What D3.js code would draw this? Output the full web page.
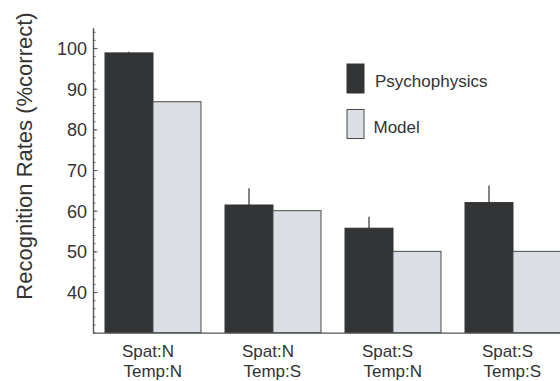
<!DOCTYPE html>
<html>
<head>
<meta charset="utf-8">
<script src="https://cdn.jsdelivr.net/npm/d3@7"></script>
<style>
  html, body { margin: 0; padding: 0; background: #fff; }
  svg { display: block; font-family: "Liberation Sans", Arial, Helvetica, sans-serif; }
</style>
</head>
<body>
<svg id="chart" width="560" height="381"></svg>
<script>
// Recognition rates per spatial/temporal condition
const conditions = [["Spat:N", "Temp:N"], ["Spat:N", "Temp:S"], ["Spat:S", "Temp:N"], ["Spat:S", "Temp:S"]];
const seriesNames = ["Psychophysics", "Model"];
const psychophysics = [98.8, 61.4, 55.7, 62.0];
const psychophysicsErr = [0.3, 4.1, 2.8, 4.2];
const model = [86.8, 60.0, 50.0, 50.0];
const majorTicks = [40, 50, 60, 70, 80, 90, 100];
const minorTicks = d3.range(30, 105, 2);

const colors = { Psychophysics: "#333436", Model: "#dcdfe3" };
const ink = "#333";

const svg = d3.select("#chart");
const axisX = 93, plotTop = 27.7, plotBottom = 332.7;

const keys = conditions.map(c => c.join(" "));
const x0 = d3.scaleBand().domain(keys).range([axisX, 573]).paddingInner(0.2).paddingOuter(0.1);
const x1 = d3.scaleBand().domain(seriesNames).range([0, x0.bandwidth()]);
const y = d3.scaleLinear().domain([30, 105]).range([plotBottom, plotTop]);

const rows = keys.map((k, i) => ({
  key: k,
  label: conditions[i],
  values: [
    { name: "Psychophysics", v: psychophysics[i], err: psychophysicsErr[i] },
    { name: "Model", v: model[i], err: 0 }
  ]
}));

// Bars
const groups = svg.append("g").selectAll("g").data(rows).join("g")
  .attr("transform", d => `translate(${x0(d.key)},0)`);

groups.selectAll("rect").data(d => d.values).join("rect")
  .attr("x", d => x1(d.name))
  .attr("y", d => y(d.v))
  .attr("width", x1.bandwidth())
  .attr("height", d => y(30) - y(d.v))
  .attr("fill", d => colors[d.name])
  .attr("stroke", d => d.name === "Model" ? "#4a4a4a" : "#333436")
  .attr("stroke-width", 1);

// Upward error bars on psychophysics
groups.selectAll("line.err").data(d => d.values.filter(v => v.err > 0)).join("line")
  .attr("class", "err")
  .attr("x1", d => x1(d.name) + x1.bandwidth() / 2)
  .attr("x2", d => x1(d.name) + x1.bandwidth() / 2)
  .attr("y1", d => y(d.v))
  .attr("y2", d => y(d.v + d.err))
  .attr("stroke", ink)
  .attr("stroke-width", 1.2);

// Y axis: minor ticks, then labelled major ticks, pointing into the plot
const yMinor = svg.append("g").attr("transform", `translate(${axisX},0)`)
  .call(d3.axisLeft(y).tickValues(minorTicks).tickSizeInner(-2.5).tickSizeOuter(0).tickFormat(""));
const yMajor = svg.append("g").attr("transform", `translate(${axisX},0)`)
  .call(d3.axisLeft(y).tickValues(majorTicks).tickSizeInner(-4.5).tickSizeOuter(0).tickPadding(6));
[yMinor, yMajor].forEach(g => {
  g.selectAll("line").attr("stroke", "#555");
  g.select(".domain").attr("stroke", "#555").attr("stroke-width", 1.2);
});
yMajor.selectAll("text")
  .attr("font-size", 18)
  .attr("font-family", "Liberation Sans, Arial, sans-serif")
  .attr("fill", ink)
  .attr("dy", "0.35em");

// X axis with two-line condition labels
const xAxis = svg.append("g").attr("transform", `translate(0,${plotBottom})`)
  .call(d3.axisBottom(x0).tickSize(0).tickSizeOuter(0));
xAxis.select(".domain").attr("stroke", "#555").attr("stroke-width", 1.2);
xAxis.selectAll(".tick text").each(function(k) {
  const lines = rows.find(r => r.key === k).label;
  const t = d3.select(this).text(null)
    .attr("text-anchor", "start")
    .attr("font-size", 17)
    .attr("font-family", "Liberation Sans, Arial, sans-serif")
    .attr("fill", ink)
    .attr("y", 0).attr("dy", null);
  lines.forEach((s, i) => t.append("tspan").attr("x", -31 + i * 1.5).attr("y", 24 + i * 20).text(s));
});

// Y axis title
svg.append("text")
  .attr("transform", "translate(32,156) rotate(-90)")
  .attr("text-anchor", "middle")
  .attr("font-size", 22)
  .attr("fill", ink)
  .text("Recognition Rates (%correct)");

// Legend
const legend = svg.append("g");
const legendY = [64, 109.5];
seriesNames.forEach((name, i) => {
  legend.append("rect")
    .attr("x", 347).attr("y", legendY[i])
    .attr("width", 17).attr("height", 29)
    .attr("fill", colors[name])
    .attr("stroke", name === "Model" ? "#4a4a4a" : "#333436");
  legend.append("text")
    .attr("x", i === 0 ? 375 : 373.5)
    .attr("y", legendY[i] + 23.3)
    .attr("font-size", 17)
    .attr("fill", ink)
    .text(name);
});
</script>
</body>
</html>
